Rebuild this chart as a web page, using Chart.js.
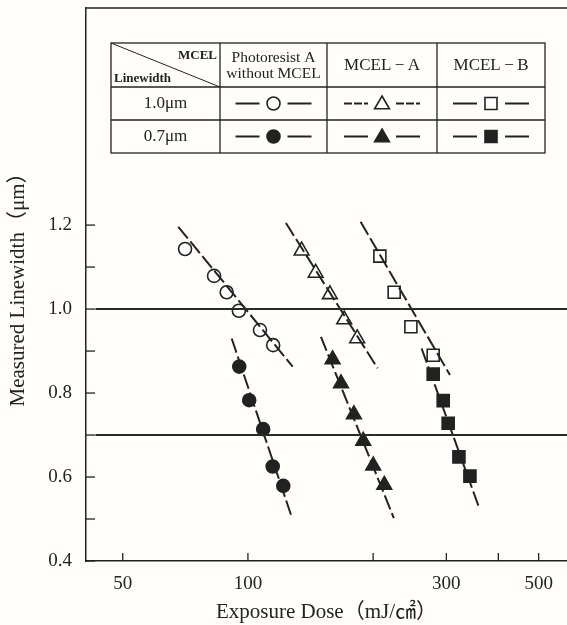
<!DOCTYPE html>
<html>
<head>
<meta charset="utf-8">
<script src="https://cdn.jsdelivr.net/npm/chart.js@4"></script>
<style>
  html, body { margin: 0; padding: 0; background: #fffefa; }
  #wrap { width: 567px; height: 625px; }
</style>
</head>
<body>
<div id="wrap"><canvas id="lineChart" width="567" height="625"></canvas></div>
<script>
// measured points (dose mJ/cm2, linewidth um)
const doseA10 = [70.6, 82.9, 88.9, 95.1, 106.9, 115.0];
const widthA10 = [1.143, 1.079, 1.040, 0.996, 0.950, 0.914];
const doseA07 = [95.3, 100.7, 108.8, 114.7, 121.6];
const widthA07 = [0.863, 0.783, 0.714, 0.625, 0.579];
const doseMA10 = [134.6, 145.5, 157.4, 170.4, 183.1];
const widthMA10 = [1.139, 1.086, 1.035, 0.975, 0.930];
const doseMA07 = [159.8, 167.4, 179.8, 189.3, 200.1, 212.7];
const widthMA07 = [0.880, 0.823, 0.749, 0.686, 0.627, 0.581];
const doseMB10 = [207.6, 224.7, 246.5, 278.9];
const widthMB10 = [1.126, 1.040, 0.958, 0.890];
const doseMB07 = [278.9, 294.8, 303.0, 321.6, 341.8];
const widthMB07 = [0.845, 0.782, 0.728, 0.648, 0.602];

// fitted lines (start, end)
const fitDoseA10 = [68.0, 128.1];
const fitWidthA10 = [1.196, 0.863];
const fitDoseA07 = [91.4, 127.4];
const fitWidthA07 = [0.930, 0.505];
const fitDoseMA10 = [123.4, 205.0];
const fitWidthMA10 = [1.205, 0.859];
const fitDoseMA07 = [149.8, 224.3];
const fitWidthMA07 = [0.934, 0.502];
const fitDoseMB10 = [186.6, 306.0];
const fitWidthMB10 = [1.208, 0.843];
const fitDoseMB07 = [261.6, 359.0];
const fitWidthMB07 = [0.906, 0.529];

// target linewidth reference lines
const refDose = [43, 600];
const refWidths = [1.0, 0.7];

const xTicks = [50, 100, 200, 300, 400, 500];
const xLabels = ['50', '100', '', '300', '', '500'];
const yTicks = [0.4, 0.5, 0.6, 0.7, 0.8, 0.9, 1.0, 1.1, 1.2];
const yLabels = ['0.4', '', '0.6', '', '0.8', '', '1.0', '', '1.2'];

const legendCols = [['Photoresist A', 'without MCEL'], ['MCEL\u2009−\u2009A'], ['MCEL\u2009−\u2009B']];
const legendRows = ['1.0μm', '0.7μm'];

const INK = '#222';
const SERIF = '"Liberation Serif", "DejaVu Serif", "Noto Sans CJK JP", serif';

function pts(xs, ys) {
    return xs.map((x, i) => ({ x: x, y: ys[i] }));
}

function markerSet(xs, ys, style, filled) {
    const r = style === 'circle' ? 6.5 : 8.5;
    return {
        data: pts(xs, ys),
        showLine: false,
        pointStyle: style,
        pointRadius: r,
        pointHoverRadius: r,
        pointBorderWidth: 1.6,
        pointBorderColor: INK,
        pointBackgroundColor: filled ? INK : '#ffffff'
    };
}

function fitSet(xs, ys, dash) {
    return {
        data: pts(xs, ys),
        showLine: true,
        borderColor: INK,
        borderWidth: 2,
        borderDash: dash,
        pointRadius: 0,
        fill: false
    };
}

// draws one marker glyph for the legend table
function drawGlyph(ctx, style, filled, x, y) {
    ctx.save();
    ctx.lineWidth = 1.6;
    ctx.strokeStyle = INK;
    ctx.fillStyle = filled ? INK : '#ffffff';
    ctx.beginPath();
    if (style === 'circle') {
        ctx.arc(x, y, 6.5, 0, Math.PI * 2);
    } else if (style === 'rect') {
        ctx.rect(x - 6, y - 6, 12, 12);
    } else {
        ctx.moveTo(x, y - 8.5);
        ctx.lineTo(x + 7.4, y + 4.3);
        ctx.lineTo(x - 7.4, y + 4.3);
        ctx.closePath();
    }
    ctx.fill();
    ctx.stroke();
    ctx.restore();
}

const framePlugin = {
    id: 'frame',
    afterDraw(chart) {
        const ctx = chart.ctx;
        const { left, right, top, bottom } = chart.chartArea;
        const xs = chart.scales.x;
        const ys = chart.scales.y;
        ctx.save();
        ctx.strokeStyle = INK;
        ctx.lineWidth = 1.5;
        // top border
        ctx.beginPath();
        ctx.moveTo(left, top);
        ctx.lineTo(right, top);
        ctx.stroke();
        // inward ticks
        ctx.lineWidth = 1.3;
        xTicks.forEach(v => {
            const px = xs.getPixelForValue(v);
            ctx.beginPath();
            ctx.moveTo(px, bottom);
            ctx.lineTo(px, bottom - 8);
            ctx.stroke();
        });
        yTicks.forEach(v => {
            const py = ys.getPixelForValue(v);
            ctx.beginPath();
            ctx.moveTo(left, py);
            ctx.lineTo(left + 9, py);
            ctx.stroke();
        });

        // legend table
        const tx = [111, 220, 327, 437, 545];
        const ty = [43, 87, 120, 153];
        ctx.lineWidth = 1.3;
        ctx.strokeRect(tx[0], ty[0], tx[4] - tx[0], ty[3] - ty[0]);
        for (let i = 1; i < 4; i++) {
            ctx.beginPath();
            ctx.moveTo(tx[i], ty[0]);
            ctx.lineTo(tx[i], ty[3]);
            ctx.stroke();
        }
        for (let j = 1; j < 3; j++) {
            ctx.beginPath();
            ctx.moveTo(tx[0], ty[j]);
            ctx.lineTo(tx[4], ty[j]);
            ctx.stroke();
        }
        ctx.lineWidth = 1;
        ctx.beginPath();
        ctx.moveTo(tx[0], ty[0]);
        ctx.lineTo(tx[1], ty[1]);
        ctx.stroke();

        ctx.fillStyle = INK;
        ctx.textBaseline = 'middle';
        ctx.font = '600 13px ' + SERIF;
        ctx.textAlign = 'right';
        ctx.fillText('MCEL', tx[1] - 3, 56);
        ctx.textAlign = 'left';
        ctx.fillText('Linewidth', tx[0] + 3, 79);

        ctx.textAlign = 'center';
        legendCols.forEach((lines, i) => {
            const cx = (tx[i + 1] + tx[i + 2]) / 2;
            if (lines.length === 2) {
                ctx.font = '15.5px ' + SERIF;
                ctx.fillText(lines[0], cx, 58);
                ctx.fillText(lines[1], cx, 74);
            } else {
                ctx.font = '17px ' + SERIF;
                ctx.fillText(lines[0], cx, 66);
            }
        });
        ctx.font = '17px ' + SERIF;
        legendRows.forEach((t, j) => {
            ctx.fillText(t, (tx[0] + tx[1]) / 2, (ty[j + 1] + ty[j + 2]) / 2);
        });

        const styles = ['circle', 'triangle', 'rect'];
        const dashes = [[], [8, 2], []];
        ctx.lineWidth = 1.8;
        styles.forEach((s, i) => {
            const cx = (tx[i + 1] + tx[i + 2]) / 2;
            [false, true].forEach((filled, j) => {
                const cy = (ty[j + 1] + ty[j + 2]) / 2;
                ctx.setLineDash(j === 0 ? dashes[i] : []);
                ctx.beginPath();
                ctx.moveTo(cx - 38, cy);
                ctx.lineTo(cx - 14, cy);
                ctx.moveTo(cx + 14, cy);
                ctx.lineTo(cx + 38, cy);
                ctx.stroke();
                ctx.setLineDash([]);
                drawGlyph(ctx, s, filled, cx, cy + (s === 'triangle' ? 1 : 0));
            });
        });
        ctx.restore();
    }
};

const dash = [15, 4];
const datasets = [
    ...refWidths.map(w => ({
        data: pts(refDose, [w, w]),
        showLine: true,
        borderColor: '#2a2a2a',
        borderWidth: 2,
        pointRadius: 0
    })),
    fitSet(fitDoseA10, fitWidthA10, dash),
    fitSet(fitDoseA07, fitWidthA07, dash),
    fitSet(fitDoseMA10, fitWidthMA10, dash),
    fitSet(fitDoseMA07, fitWidthMA07, dash),
    fitSet(fitDoseMB10, fitWidthMB10, dash),
    fitSet(fitDoseMB07, fitWidthMB07, dash),
    markerSet(doseA10, widthA10, 'circle', false),
    markerSet(doseA07, widthA07, 'circle', true),
    markerSet(doseMA10, widthMA10, 'triangle', false),
    markerSet(doseMA07, widthMA07, 'triangle', true),
    markerSet(doseMB10, widthMB10, 'rect', false),
    markerSet(doseMB07, widthMB07, 'rect', true)
];

new Chart(document.getElementById('lineChart'), {
    type: 'scatter',
    data: { datasets: datasets },
    options: {
        responsive: false,
        animation: false,
        layout: { autoPadding: false, padding: { top: 8, right: 0, left: 0, bottom: 0 } },
        plugins: {
            legend: { display: false },
            tooltip: { enabled: false }
        },
        scales: {
            x: {
                type: 'logarithmic',
                min: 40.8,
                max: 585,
                grid: { display: false },
                border: { color: INK, width: 1.5 },
                afterBuildTicks: scale => { scale.ticks = xTicks.map(v => ({ value: v })); },
                afterFit: scale => {
                    scale.height = 64;
                    scale.paddingLeft = 0;
                    scale.paddingRight = 0;
                },
                ticks: {
                    autoSkip: false,
                    maxRotation: 0,
                    padding: 4,
                    color: INK,
                    font: { family: SERIF, size: 19 },
                    callback: (v) => xLabels[xTicks.indexOf(v)] || ''
                },
                title: {
                    display: true,
                    text: 'Exposure Dose（mJ/㎠）',
                    color: INK,
                    font: { family: SERIF, size: 21 },
                    padding: { top: 0, bottom: 0 }
                }
            },
            y: {
                min: 0.4,
                max: 1.717,
                grid: { display: false },
                border: { color: INK, width: 1.5 },
                afterBuildTicks: scale => { scale.ticks = yTicks.map(v => ({ value: v })); },
                afterFit: scale => {
                    scale.width = 86;
                    scale.paddingTop = 0;
                    scale.paddingBottom = 0;
                },
                ticks: {
                    padding: 6,
                    color: INK,
                    font: { family: SERIF, size: 19 },
                    callback: (v) => {
                        const i = yTicks.findIndex(t => Math.abs(t - v) < 1e-6);
                        return i >= 0 ? yLabels[i] : '';
                    }
                },
                title: {
                    display: true,
                    text: 'Measured Linewidth（μm）',
                    color: INK,
                    font: { family: SERIF, size: 21 },
                    padding: { top: 6, bottom: 0 }
                }
            }
        }
    },
    plugins: [framePlugin]
});
</script>
</body>
</html>
